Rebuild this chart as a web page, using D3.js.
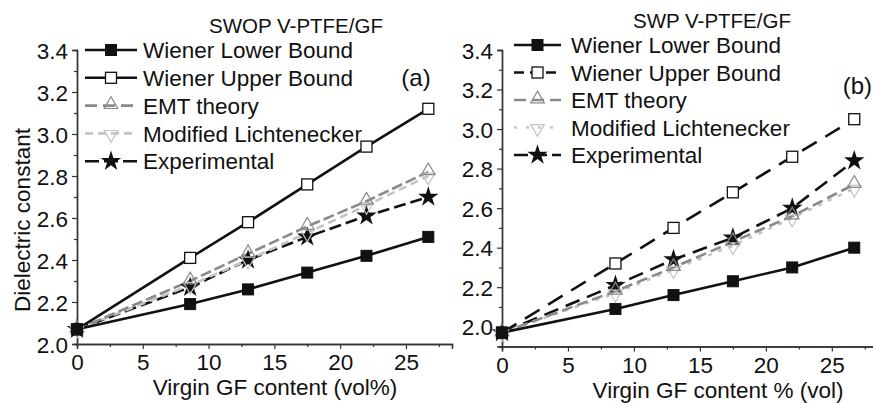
<!DOCTYPE html>
<html>
<head>
<meta charset="utf-8">
<script src="https://cdn.jsdelivr.net/npm/d3@7"></script>
<style>
  html, body { margin: 0; padding: 0; background: #fff; }
  svg { display: block; font-family: "Liberation Sans", Arial, sans-serif; }
</style>
</head>
<body>
<svg id="chart" width="873" height="403"></svg>
<script>
// Virgin GF content (vol%) at which each composite was evaluated
const gfContent = [0, 8.6, 13, 17.5, 22, 26.7];

const seriesNames = ["Wiener Lower Bound", "Wiener Upper Bound", "EMT theory", "Modified Lichtenecker", "Experimental"];

// (a) SWOP V-PTFE/GF
const swopLower = [2.07, 2.19, 2.26, 2.34, 2.42, 2.51];
const swopUpper = [2.07, 2.41, 2.58, 2.76, 2.94, 3.12];
const swopEMT   = [2.07, 2.30, 2.43, 2.56, 2.68, 2.82];
const swopML    = [2.07, 2.28, 2.40, 2.53, 2.66, 2.80];
const swopExp   = [2.07, 2.27, 2.40, 2.51, 2.61, 2.70];

// (b) SWP V-PTFE/GF
const swpLower = [1.97, 2.09, 2.16, 2.23, 2.30, 2.40];
const swpUpper = [1.97, 2.32, 2.50, 2.68, 2.86, 3.05];
const swpEMT   = [1.97, 2.18, 2.30, 2.43, 2.56, 2.72];
const swpML    = [1.97, 2.17, 2.29, 2.41, 2.55, 2.70];
const swpExp   = [1.97, 2.21, 2.34, 2.45, 2.60, 2.84];

const xTicks = [0, 5, 10, 15, 20, 25];
const yTicks = [2.0, 2.2, 2.4, 2.6, 2.8, 3.0, 3.2, 3.4];

const svg = d3.select("#chart");

const starPath = d3.symbol().type(d3.symbolStar).size(130)();
const triPath = d3.symbol().type(d3.symbolTriangle).size(80)();

function drawMarker(g, kind, color) {
  if (kind === "fsq") {
    g.append("rect").attr("x", -5.5).attr("y", -5.5).attr("width", 11).attr("height", 11)
      .attr("fill", color).attr("stroke", color).attr("stroke-width", 1);
  } else if (kind === "osq") {
    g.append("rect").attr("x", -5.5).attr("y", -5.5).attr("width", 11).attr("height", 11)
      .attr("fill", "#fff").attr("stroke", color).attr("stroke-width", 1.3);
  } else if (kind === "tup") {
    g.append("path").attr("d", triPath).attr("transform", "translate(0,-1)")
      .attr("fill", "none").attr("stroke", color).attr("stroke-width", 1.2);
  } else if (kind === "tdn") {
    g.append("path").attr("d", triPath).attr("transform", "translate(0,1) rotate(180)")
      .attr("fill", "none").attr("stroke", color).attr("stroke-width", 1.2);
  } else if (kind === "star") {
    g.append("path").attr("d", starPath).attr("fill", color);
  }
}

function panel(cfg) {
  const x = d3.scaleLinear().domain([0, 28.5]).range(cfg.xRange);
  const y = d3.scaleLinear().domain(cfg.yDomain).range(cfg.yRange);
  const g = svg.append("g");

  // axes: major ticks with labels, minor ticks at half steps
  const xAxis = d3.axisBottom(x).tickValues(xTicks).tickFormat(d3.format("d")).tickSize(5).tickPadding(3);
  const xMinor = d3.axisBottom(x).tickValues(d3.range(2.5, 28.5, 5)).tickFormat("").tickSize(3);
  const yAxis = d3.axisLeft(y).tickValues(yTicks).tickFormat(d3.format(".1f")).tickSize(5).tickPadding(4);
  const yMinor = d3.axisLeft(y).tickValues(d3.range(cfg.yDomain[0] === 2.0 ? 2.1 : 1.9, 3.45, 0.2)).tickFormat("").tickSize(3);

  const axX = g.append("g").attr("transform", `translate(0,${cfg.yRange[0]})`).call(xAxis);
  g.append("g").attr("transform", `translate(0,${cfg.yRange[0]})`).call(xMinor);
  const axY = g.append("g").attr("transform", `translate(${cfg.xRange[0]},0)`).call(yAxis);
  g.append("g").attr("transform", `translate(${cfg.xRange[0]},0)`).call(yMinor);

  g.selectAll(".domain").attr("stroke", "#333").attr("stroke-width", 1.4);
  g.selectAll(".tick line").attr("stroke", "#333").attr("stroke-width", 1.2);
  g.selectAll(".tick text").attr("font-size", 22.5).attr("fill", "#111")
    .attr("font-family", "'Liberation Sans', Arial, sans-serif");
  axX.selectAll(".tick text").attr("dy", "0.8em");
  axY.selectAll(".tick text").attr("dy", "0.36em");

  // series lines and markers
  const line = d3.line().x((d, i) => x(gfContent[i])).y(d => y(d));
  const order = [4, 3, 2, 1, 0];
  order.forEach(k => {
    const s = cfg.series[k];
    g.append("path").datum(s.values).attr("d", line)
      .attr("fill", "none").attr("stroke", s.color).attr("stroke-width", 2.6)
      .attr("stroke-dasharray", s.dash || null);
  });
  order.forEach(k => {
    const s = cfg.series[k];
    s.values.forEach((v, i) => {
      const mg = g.append("g").attr("transform", `translate(${x(gfContent[i])},${y(v)})`);
      drawMarker(mg, s.marker, s.mColor || s.color);
    });
  });

  // legend
  cfg.series.forEach((s, i) => {
    const ly = cfg.legend.y + i * cfg.legend.dy;
    const lg = g.append("g");
    lg.append("line").attr("x1", cfg.legend.x).attr("x2", cfg.legend.x + cfg.legend.len)
      .attr("y1", ly).attr("y2", ly)
      .attr("stroke", s.color).attr("stroke-width", 2.6)
      .attr("stroke-dasharray", s.legendDash || s.dash || null);
    const mg = lg.append("g").attr("transform", `translate(${cfg.legend.x + cfg.legend.len / 2},${ly})`);
    drawMarker(mg, s.marker, s.mColor || s.color);
    lg.append("text").attr("x", cfg.legend.x + cfg.legend.len + cfg.legend.gap).attr("y", ly).attr("dy", "0.36em")
      .attr("font-size", 22.5).attr("fill", "#111").text(seriesNames[i]);
  });

  // titles
  g.append("text").attr("x", cfg.title.x).attr("y", cfg.title.y).attr("text-anchor", "middle")
    .attr("font-size", 20.5).attr("fill", "#111").text(cfg.title.text);
  g.append("text").attr("x", cfg.tag.x).attr("y", cfg.tag.y).attr("text-anchor", cfg.tag.anchor)
    .attr("font-size", 24).attr("fill", "#111").text(cfg.tag.text);
  g.append("text").attr("x", cfg.xLabel.x).attr("y", cfg.xLabel.y).attr("text-anchor", "middle")
    .attr("font-size", 22.5).attr("fill", "#111").text(cfg.xLabel.text);
  return { x, y };
}

const grayEMT = "#8a8a8a";
const grayML = "#c4c4c4";

panel({
  xRange: [77, 452],
  yDomain: [2.0, 3.4],
  yRange: [344, 50],
  series: [
    { values: swopLower, color: "#111", marker: "fsq" },
    { values: swopUpper, color: "#111", marker: "osq" },
    { values: swopEMT, color: grayEMT, marker: "tup", dash: "11 4", legendDash: "12 6" },
    { values: swopML, color: grayML, marker: "tdn", dash: "8 5", legendDash: "8 5" },
    { values: swopExp, color: "#111", marker: "star", dash: "12 5", legendDash: "14 5" }
  ],
  legend: { x: 85, len: 52, gap: 6, y: 50, dy: 27.8 },
  title: { x: 296, y: 33, text: "SWOP V-PTFE/GF" },
  tag: { x: 416, y: 86, anchor: "middle", text: "(a)" },
  xLabel: { x: 275, y: 395, text: "Virgin GF content (vol%)" }
});

panel({
  xRange: [502, 878],
  yDomain: [1.9, 3.4],
  yRange: [346.5, 50],
  series: [
    { values: swpLower, color: "#111", marker: "fsq" },
    { values: swpUpper, color: "#111", marker: "osq", dash: "17 10", legendDash: "10 6" },
    { values: swpEMT, color: grayEMT, marker: "tup", dash: "11 5", legendDash: "12 6" },
    { values: swpML, color: grayML, marker: "tdn", dash: "4 7", legendDash: "3 9" },
    { values: swpExp, color: "#111", marker: "star", dash: "15 8", legendDash: "14 5" }
  ],
  legend: { x: 514, len: 47, gap: 10, y: 45, dy: 27.5 },
  title: { x: 712, y: 28, text: "SWP V-PTFE/GF" },
  tag: { x: 872, y: 94, anchor: "end", text: "(b)" },
  xLabel: { x: 718, y: 398, text: "Virgin GF content % (vol)" }
});

// y-axis title of the left panel
svg.append("text")
  .attr("transform", "translate(30,220) rotate(-90)")
  .attr("text-anchor", "middle").attr("font-size", 22.5).attr("fill", "#111")
  .text("Dielectric constant");
</script>
</body>
</html>
